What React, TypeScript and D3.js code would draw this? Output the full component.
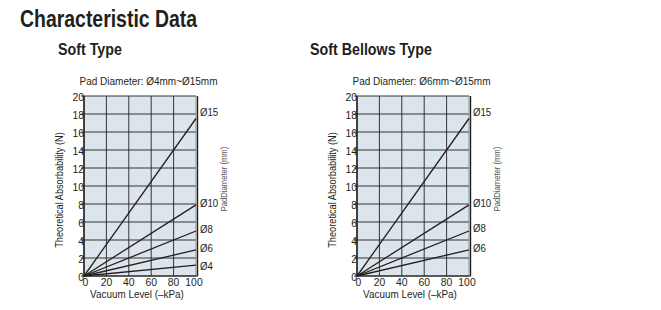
import { useEffect, useRef } from "react";
import * as d3 from "d3";

// Vacuum level ticks (-kPa) and absorbability ticks (N)
const xTicks = [0, 20, 40, 60, 80, 100];
const yTicks = [0, 2, 4, 6, 8, 10, 12, 14, 16, 18, 20];

// Soft Type: force at 100 kPa per pad diameter
const softDiameters = ["Ø15", "Ø10", "Ø8", "Ø6", "Ø4"];
const softForceAt100 = [17.5, 7.9, 5.0, 2.9, 1.2];
const softLabelAt = [18.2, 8.15, 5.2, 3.1, 1.1];

// Soft Bellows Type
const bellowsDiameters = ["Ø15", "Ø10", "Ø8", "Ø6"];
const bellowsForceAt100 = [17.5, 7.9, 5.0, 2.9];
const bellowsLabelAt = [18.2, 8.15, 5.3, 3.1];

const FONT = "'Liberation Sans', Arial, Helvetica, sans-serif";
const INK = "#231f20";
// the source uses a condensed Helvetica, so squeeze every text horizontally
const SQ = 0.84;

interface PanelSpec {
  left: number;
  titleX: number;
  title: string;
  subtitle: string;
  names: string[];
  values: number[];
  labelY: number[];
  sideLabelDx: number;
}

const panels: PanelSpec[] = [
  {
    left: 84,
    titleX: 58,
    title: "Soft Type",
    subtitle: "Pad Diameter: Ø4mm~Ø15mm",
    names: softDiameters,
    values: softForceAt100,
    labelY: softLabelAt,
    sideLabelDx: 31,
  },
  {
    left: 357,
    titleX: 310,
    title: "Soft Bellows Type",
    subtitle: "Pad Diameter: Ø6mm~Ø15mm",
    names: bellowsDiameters,
    values: bellowsForceAt100,
    labelY: bellowsLabelAt,
    sideLabelDx: 31,
  },
];

type Sel = d3.Selection<any, unknown, null, undefined>;

function label(
  parent: Sel,
  x: number,
  y: number,
  str: string,
  size: number,
  opts: { anchor?: string; bold?: boolean; rotate?: number; fill?: string; sq?: number } = {}
) {
  const rot = opts.rotate ? ` rotate(${opts.rotate})` : "";
  return parent
    .append("text")
    .attr("transform", `translate(${x},${y})${rot} scale(${opts.sq ?? SQ},1)`)
    .attr("text-anchor", opts.anchor ?? "start")
    .style("font-family", FONT)
    .style("font-weight", opts.bold ? "bold" : "normal")
    .style("font-size", `${size}px`)
    .style("fill", opts.fill ?? INK)
    .text(str);
}

export default function App() {
  const svgRef = useRef<SVGSVGElement>(null);

  useEffect(() => {
    if (!svgRef.current) return;
    const svg = d3.select(svgRef.current) as unknown as Sel;
    svg.selectAll("*").remove();

    label(svg, 20, 27, "Characteristic Data", 24, { bold: true, sq: 0.81 });

    const top = 96;
    const w = 112;
    const h = 180;

    panels.forEach((p) => {
      const g = svg.append("g").attr("transform", `translate(${p.left},${top})`);
      const x = d3.scaleLinear().domain([0, 100]).range([0, w]);
      const y = d3.scaleLinear().domain([0, 20]).range([h, 0]);

      label(svg, p.titleX, 55, p.title, 17, { bold: true, sq: 0.84 });
      label(g, w / 2 + 8.5, -11, p.subtitle, 11.5, { anchor: "middle", sq: 0.87 });

      g.append("rect").attr("width", w).attr("height", h).attr("fill", "#dde5ec");

      // grid
      g.append("g")
        .selectAll("line")
        .data(yTicks)
        .join("line")
        .attr("x1", -3)
        .attr("x2", w)
        .attr("y1", (d) => y(d))
        .attr("y2", (d) => y(d))
        .attr("stroke", INK)
        .attr("stroke-width", 0.9);

      g.append("g")
        .selectAll("line")
        .data(xTicks)
        .join("line")
        .attr("x1", (d) => x(d))
        .attr("x2", (d) => x(d))
        .attr("y1", 0)
        .attr("y2", h)
        .attr("stroke", (d) => (d === 100 ? "#888" : INK))
        .attr("stroke-width", 0.9);

      // frame
      g.append("line")
        .attr("x1", 0).attr("x2", 0).attr("y1", 0).attr("y2", h)
        .attr("stroke", INK).attr("stroke-width", 1.4);
      g.append("line")
        .attr("x1", w + 1.5).attr("x2", w + 1.5).attr("y1", 0).attr("y2", h)
        .attr("stroke", INK).attr("stroke-width", 1.4);
      g.append("line")
        .attr("x1", 0).attr("x2", w + 2).attr("y1", h).attr("y2", h)
        .attr("stroke", INK).attr("stroke-width", 1.2);

      // series lines from origin
      const line = d3
        .line<[number, number]>()
        .x((d) => x(d[0]))
        .y((d) => y(d[1]));
      g.append("g")
        .selectAll("path")
        .data(p.values)
        .join("path")
        .attr("d", (v) => line([[0, 0], [100, v]]))
        .attr("fill", "none")
        .attr("stroke", INK)
        .attr("stroke-width", 1.3);

      // diameter labels
      p.names.forEach((n, j) => label(g, w + 4, y(p.labelY[j]) + 4, n, 11.5));

      // tick labels
      yTicks.forEach((t) =>
        label(g, 0, y(t) + 4.5, String(t), 11.5, { anchor: "end", sq: 0.9 })
      );
      xTicks.forEach((t) =>
        label(g, x(t) + (t === 0 ? 1.5 : t === 100 ? -2 : 0), h + 10, String(t), 11.5, {
          anchor: "middle",
          sq: 0.9,
        })
      );

      label(g, w / 2 - 3, h + 22, "Vacuum Level (–kPa)", 11.5, { anchor: "middle", sq: 0.86 });
      label(g, -21, h / 2 + 4, "Theoretical Absorbability (N)", 11.5, {
        anchor: "middle",
        rotate: -90,
        sq: 0.8,
      });
      label(g, w + p.sideLabelDx, h / 2 - 7, "PadDiameter (mm)", 9, {
        anchor: "middle",
        rotate: -90,
        fill: "#555",
        sq: 0.85,
      });
    });
  }, []);

  return (
    <svg
      ref={svgRef}
      width={661}
      height={310}
      style={{ position: "absolute", left: 0, top: 0, background: "#fff" }}
    />
  );
}
